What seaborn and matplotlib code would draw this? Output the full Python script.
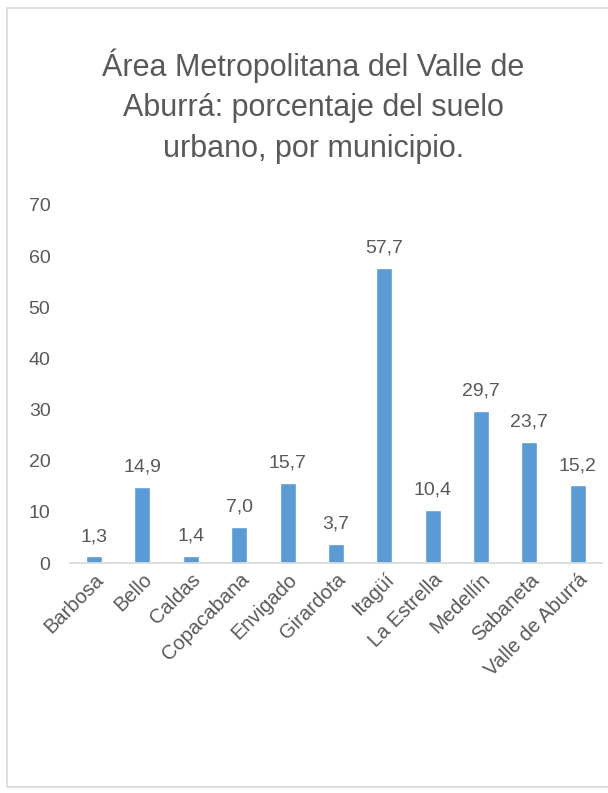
import matplotlib
matplotlib.use('Agg')
import matplotlib.pyplot as plt
import seaborn as sns
import pandas as pd
from matplotlib.patches import Rectangle

municipios = ['Barbosa', 'Bello', 'Caldas', 'Copacabana', 'Envigado', 'Girardota',
              'Itagüí', 'La Estrella', 'Medellín', 'Sabaneta', 'Valle de Aburrá']
porcentaje = [1.3, 14.9, 1.4, 7.0, 15.7, 3.7, 57.7, 10.4, 29.7, 23.7, 15.2]
y_ticks = [0, 10, 20, 30, 40, 50, 60, 70]
titulo = 'Área Metropolitana del Valle de\nAburrá: porcentaje del suelo\nurbano, por municipio.'

sns.set_theme(style='white')
plt.rcParams['font.family'] = ['Liberation Sans', 'DejaVu Sans']

df = pd.DataFrame({'municipio': municipios, 'pct': porcentaje})
txt = '#595959'

fig = plt.figure(figsize=(6.08, 7.93), dpi=100)
fig.patches.append(Rectangle((7 / 608, 6 / 793), 1.2, 779 / 793, transform=fig.transFigure,
                             fill=False, edgecolor='#d9d9d9', linewidth=1.2))
ax = fig.add_axes([0.115, 0.29, 0.875, 0.4515])
sns.barplot(data=df, x='municipio', y='pct', color='#5b9bd5', width=0.33,
            saturation=1, ax=ax)

for i, v in enumerate(porcentaje):
    ax.text(i, v + 2.2, f'{v:.1f}'.replace('.', ','), ha='center', va='bottom',
            fontsize=14, color=txt)

ax.set_ylim(0, 70)
ax.set_yticks(y_ticks)
ax.set_xlim(-0.5, len(municipios) - 0.5)
ax.set_xlabel('')
ax.set_ylabel('')
for s in ['top', 'right', 'left']:
    ax.spines[s].set_visible(False)
ax.spines['bottom'].set_color('#d9d9d9')
ax.tick_params(axis='y', labelsize=14, labelcolor=txt, length=0, pad=14)
ax.tick_params(axis='x', labelsize=14.5, labelcolor=txt, length=0, pad=5)
plt.setp(ax.get_xticklabels(), rotation=45, ha='right', rotation_mode='anchor')

fig.text(0.515, 0.939, titulo, ha='center', va='top', fontsize=22, color=txt,
         linespacing=1.45)

fig.savefig('out.png', dpi=100)
